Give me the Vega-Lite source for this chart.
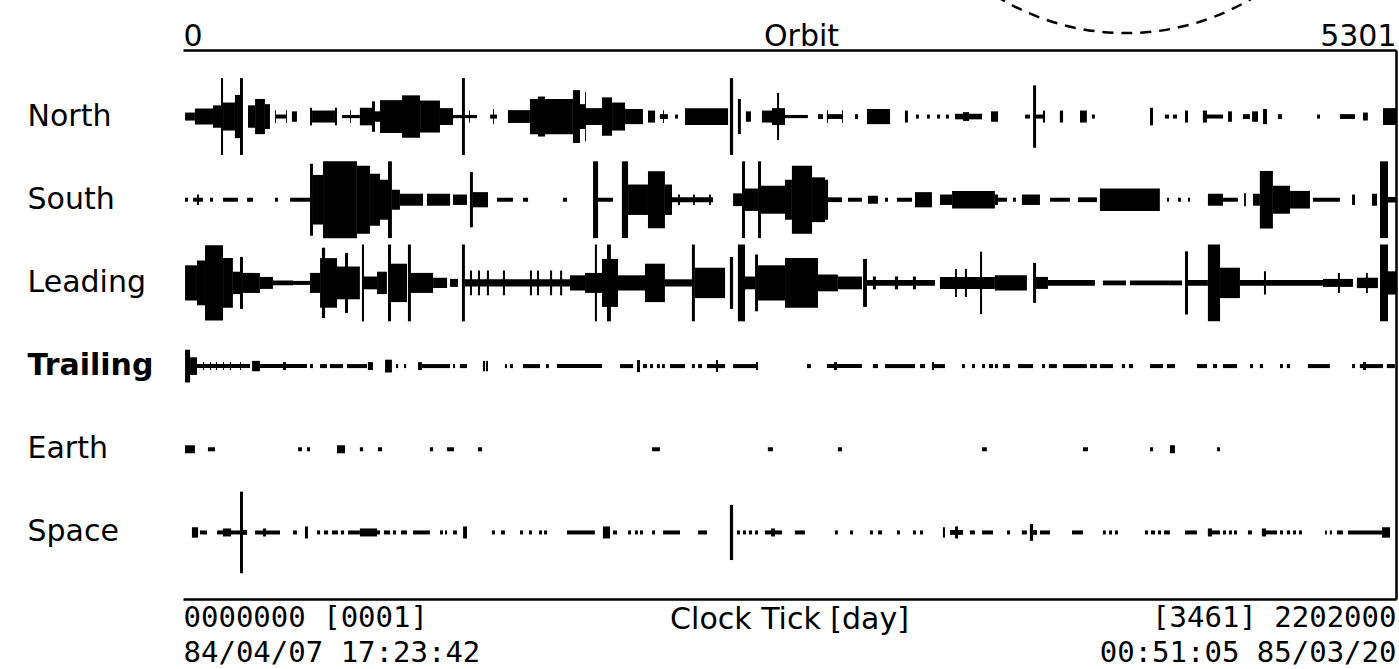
{
  "$schema": "https://vega.github.io/schema/vega-lite/v6.json",
  "width": 1213,
  "height": 549,
  "autosize": {"type": "none"},
  "padding": {"left": 183, "top": 50, "right": 3, "bottom": 70},
  "background": "white",
  "config": {"view": {"stroke": null}, "font": "DejaVu Sans"},
  "datasets": {
    "traces": [
      {"ch":"North","t0":9,"t1":52,"a":1.0},{"ch":"North","t0":52,"t1":131,"a":2.0},{"ch":"North","t0":131,"t1":166,"a":2.8},{"ch":"North","t0":166,"t1":175,"a":9.6},{"ch":"North","t0":175,"t1":227,"a":3.5},{"ch":"North","t0":227,"t1":249,"a":5.4},{"ch":"North","t0":249,"t1":262,"a":9.6},{"ch":"North","t0":284,"t1":315,"a":2.8},{"ch":"North","t0":315,"t1":358,"a":4.4},{"ch":"North","t0":358,"t1":380,"a":3.1},{"ch":"North","t0":402,"t1":406,"a":1.6},{"ch":"North","t0":406,"t1":450,"a":0.5},{"ch":"North","t0":450,"t1":454,"a":1.6},{"ch":"North","t0":476,"t1":498,"a":1.3},{"ch":"North","t0":555,"t1":564,"a":2.2},{"ch":"North","t0":564,"t1":664,"a":1.5},{"ch":"North","t0":664,"t1":673,"a":2.2},{"ch":"North","t0":695,"t1":773,"a":0.4},{"ch":"North","t0":730,"t1":734,"a":1.6},{"ch":"North","t0":773,"t1":826,"a":2.2},{"ch":"North","t0":826,"t1":839,"a":3.8},{"ch":"North","t0":839,"t1":861,"a":1.3},{"ch":"North","t0":861,"t1":957,"a":4.1},{"ch":"North","t0":957,"t1":1036,"a":5.3},{"ch":"North","t0":1036,"t1":1123,"a":4.0},{"ch":"North","t0":1123,"t1":1180,"a":2.1},{"ch":"North","t0":1180,"t1":1219,"a":0.4},{"ch":"North","t0":1219,"t1":1232,"a":9.6},{"ch":"North","t0":1232,"t1":1285,"a":0.4},{"ch":"North","t0":1250,"t1":1254,"a":1.5},{"ch":"North","t0":1342,"t1":1372,"a":0.5},{"ch":"North","t0":1355,"t1":1359,"a":1.9},{"ch":"North","t0":1420,"t1":1516,"a":1.6},{"ch":"North","t0":1516,"t1":1704,"a":4.4},{"ch":"North","t0":1551,"t1":1582,"a":5.0},{"ch":"North","t0":1704,"t1":1735,"a":6.6},{"ch":"North","t0":1735,"t1":1757,"a":3.1},{"ch":"North","t0":1757,"t1":1831,"a":2.1},{"ch":"North","t0":1757,"t1":1761,"a":6.2},{"ch":"North","t0":1831,"t1":1875,"a":4.8},{"ch":"North","t0":1875,"t1":1932,"a":3.5},{"ch":"North","t0":1932,"t1":2010,"a":1.9},{"ch":"North","t0":2032,"t1":2063,"a":1.5},{"ch":"North","t0":2084,"t1":2119,"a":0.6},{"ch":"North","t0":2098,"t1":2102,"a":1.6},{"ch":"North","t0":2150,"t1":2163,"a":0.5},{"ch":"North","t0":2194,"t1":2382,"a":2.1},{"ch":"North","t0":2390,"t1":2404,"a":9.6},{"ch":"North","t0":2425,"t1":2438,"a":4.4},{"ch":"North","t0":2460,"t1":2482,"a":1.3},{"ch":"North","t0":2530,"t1":2574,"a":1.5},{"ch":"North","t0":2574,"t1":2631,"a":2.1},{"ch":"North","t0":2596,"t1":2605,"a":5.9},{"ch":"North","t0":2631,"t1":2731,"a":0.4},{"ch":"North","t0":2775,"t1":2797,"a":0.6},{"ch":"North","t0":2814,"t1":2884,"a":0.6},{"ch":"North","t0":2814,"t1":2819,"a":1.6},{"ch":"North","t0":2880,"t1":2884,"a":1.6},{"ch":"North","t0":2937,"t1":2950,"a":0.6},{"ch":"North","t0":2989,"t1":3090,"a":1.9},{"ch":"North","t0":3155,"t1":3168,"a":1.5},{"ch":"North","t0":3203,"t1":3216,"a":0.5},{"ch":"North","t0":3251,"t1":3264,"a":0.5},{"ch":"North","t0":3295,"t1":3308,"a":0.5},{"ch":"North","t0":3334,"t1":3347,"a":0.5},{"ch":"North","t0":3374,"t1":3492,"a":0.7},{"ch":"North","t0":3409,"t1":3435,"a":1.1},{"ch":"North","t0":3531,"t1":3562,"a":1.3},{"ch":"North","t0":3680,"t1":3701,"a":0.5},{"ch":"North","t0":3715,"t1":3728,"a":7.8},{"ch":"North","t0":3728,"t1":3767,"a":0.5},{"ch":"North","t0":3758,"t1":3767,"a":1.5},{"ch":"North","t0":3832,"t1":3846,"a":1.5},{"ch":"North","t0":3920,"t1":3950,"a":1.5},{"ch":"North","t0":3972,"t1":3985,"a":0.5},{"ch":"North","t0":4226,"t1":4239,"a":2.2},{"ch":"North","t0":4291,"t1":4309,"a":0.5},{"ch":"North","t0":4326,"t1":4344,"a":0.5},{"ch":"North","t0":4379,"t1":4392,"a":1.5},{"ch":"North","t0":4457,"t1":4475,"a":1.5},{"ch":"North","t0":4475,"t1":4545,"a":0.5},{"ch":"North","t0":4567,"t1":4584,"a":1.3},{"ch":"North","t0":4632,"t1":4663,"a":0.6},{"ch":"North","t0":4672,"t1":4698,"a":1.3},{"ch":"North","t0":4720,"t1":4737,"a":1.9},{"ch":"North","t0":4785,"t1":4803,"a":0.6},{"ch":"North","t0":4956,"t1":4969,"a":0.5},{"ch":"North","t0":5056,"t1":5122,"a":0.6},{"ch":"North","t0":5157,"t1":5178,"a":1.0},{"ch":"North","t0":5244,"t1":5301,"a":2.1},
      {"ch":"South","t0":9,"t1":22,"a":0.5},{"ch":"South","t0":44,"t1":87,"a":0.5},{"ch":"South","t0":61,"t1":70,"a":1.3},{"ch":"South","t0":118,"t1":131,"a":0.5},{"ch":"South","t0":175,"t1":240,"a":0.5},{"ch":"South","t0":280,"t1":306,"a":0.5},{"ch":"South","t0":402,"t1":415,"a":0.5},{"ch":"South","t0":468,"t1":555,"a":0.5},{"ch":"South","t0":555,"t1":568,"a":9.0},{"ch":"South","t0":568,"t1":612,"a":6.2},{"ch":"South","t0":612,"t1":760,"a":9.6},{"ch":"South","t0":760,"t1":817,"a":8.5},{"ch":"South","t0":817,"t1":861,"a":6.5},{"ch":"South","t0":861,"t1":896,"a":5.0},{"ch":"South","t0":896,"t1":913,"a":9.6},{"ch":"South","t0":913,"t1":948,"a":2.5},{"ch":"South","t0":948,"t1":1049,"a":1.5},{"ch":"South","t0":1066,"t1":1167,"a":1.5},{"ch":"South","t0":1180,"t1":1241,"a":1.3},{"ch":"South","t0":1254,"t1":1267,"a":6.9},{"ch":"South","t0":1267,"t1":1333,"a":1.9},{"ch":"South","t0":1372,"t1":1442,"a":0.5},{"ch":"South","t0":1486,"t1":1508,"a":0.5},{"ch":"South","t0":1661,"t1":1678,"a":0.5},{"ch":"South","t0":1792,"t1":1814,"a":9.6},{"ch":"South","t0":1814,"t1":1879,"a":0.5},{"ch":"South","t0":1918,"t1":1945,"a":9.6},{"ch":"South","t0":1945,"t1":2032,"a":3.8},{"ch":"South","t0":2032,"t1":2106,"a":7.1},{"ch":"South","t0":2106,"t1":2137,"a":3.8},{"ch":"South","t0":2137,"t1":2316,"a":0.6},{"ch":"South","t0":2163,"t1":2172,"a":1.3},{"ch":"South","t0":2229,"t1":2237,"a":1.3},{"ch":"South","t0":2299,"t1":2307,"a":1.3},{"ch":"South","t0":2404,"t1":2447,"a":1.6},{"ch":"South","t0":2443,"t1":2456,"a":9.6},{"ch":"South","t0":2456,"t1":2513,"a":2.8},{"ch":"South","t0":2513,"t1":2526,"a":9.6},{"ch":"South","t0":2526,"t1":2631,"a":3.5},{"ch":"South","t0":2631,"t1":2661,"a":5.0},{"ch":"South","t0":2661,"t1":2749,"a":8.5},{"ch":"South","t0":2749,"t1":2806,"a":5.6},{"ch":"South","t0":2806,"t1":2819,"a":5.0},{"ch":"South","t0":2819,"t1":2880,"a":0.6},{"ch":"South","t0":2906,"t1":2967,"a":0.5},{"ch":"South","t0":2993,"t1":3037,"a":1.0},{"ch":"South","t0":3068,"t1":3081,"a":0.5},{"ch":"South","t0":3120,"t1":3186,"a":0.5},{"ch":"South","t0":3199,"t1":3273,"a":1.9},{"ch":"South","t0":3308,"t1":3361,"a":1.3},{"ch":"South","t0":3361,"t1":3548,"a":2.2},{"ch":"South","t0":3548,"t1":3562,"a":1.3},{"ch":"South","t0":3562,"t1":3601,"a":0.5},{"ch":"South","t0":3627,"t1":3640,"a":0.5},{"ch":"South","t0":3666,"t1":3745,"a":1.3},{"ch":"South","t0":3789,"t1":3876,"a":0.5},{"ch":"South","t0":3911,"t1":3994,"a":0.6},{"ch":"South","t0":4007,"t1":4269,"a":2.8},{"ch":"South","t0":4300,"t1":4309,"a":0.5},{"ch":"South","t0":4348,"t1":4361,"a":0.5},{"ch":"South","t0":4392,"t1":4401,"a":0.5},{"ch":"South","t0":4479,"t1":4545,"a":1.5},{"ch":"South","t0":4545,"t1":4610,"a":0.5},{"ch":"South","t0":4637,"t1":4645,"a":1.6},{"ch":"South","t0":4676,"t1":4706,"a":1.5},{"ch":"South","t0":4706,"t1":4763,"a":7.2},{"ch":"South","t0":4763,"t1":4838,"a":3.5},{"ch":"South","t0":4838,"t1":4925,"a":2.2},{"ch":"South","t0":4938,"t1":5056,"a":0.5},{"ch":"South","t0":5109,"t1":5122,"a":1.3},{"ch":"South","t0":5196,"t1":5218,"a":1.5},{"ch":"South","t0":5231,"t1":5266,"a":9.6},{"ch":"South","t0":5266,"t1":5301,"a":0.7},
      {"ch":"Leading","t0":9,"t1":61,"a":4.4},{"ch":"Leading","t0":61,"t1":96,"a":5.6},{"ch":"Leading","t0":96,"t1":175,"a":9.4},{"ch":"Leading","t0":175,"t1":218,"a":6.2},{"ch":"Leading","t0":218,"t1":249,"a":2.8},{"ch":"Leading","t0":249,"t1":262,"a":6.5},{"ch":"Leading","t0":262,"t1":336,"a":2.5},{"ch":"Leading","t0":336,"t1":393,"a":1.5},{"ch":"Leading","t0":393,"t1":481,"a":0.6},{"ch":"Leading","t0":481,"t1":555,"a":0.5},{"ch":"Leading","t0":555,"t1":599,"a":2.5},{"ch":"Leading","t0":599,"t1":673,"a":6.2},{"ch":"Leading","t0":607,"t1":621,"a":8.8},{"ch":"Leading","t0":673,"t1":717,"a":4.1},{"ch":"Leading","t0":708,"t1":721,"a":7.5},{"ch":"Leading","t0":721,"t1":773,"a":4.1},{"ch":"Leading","t0":782,"t1":791,"a":9.6},{"ch":"Leading","t0":791,"t1":848,"a":1.6},{"ch":"Leading","t0":848,"t1":891,"a":2.8},{"ch":"Leading","t0":896,"t1":909,"a":9.6},{"ch":"Leading","t0":905,"t1":979,"a":4.8},{"ch":"Leading","t0":983,"t1":996,"a":9.6},{"ch":"Leading","t0":992,"t1":1093,"a":2.5},{"ch":"Leading","t0":1093,"t1":1154,"a":1.3},{"ch":"Leading","t0":1167,"t1":1202,"a":1.0},{"ch":"Leading","t0":1219,"t1":1232,"a":9.6},{"ch":"Leading","t0":1232,"t1":1691,"a":0.9},{"ch":"Leading","t0":1254,"t1":1263,"a":3.1},{"ch":"Leading","t0":1289,"t1":1298,"a":3.1},{"ch":"Leading","t0":1328,"t1":1337,"a":3.1},{"ch":"Leading","t0":1398,"t1":1407,"a":3.1},{"ch":"Leading","t0":1516,"t1":1525,"a":3.1},{"ch":"Leading","t0":1547,"t1":1556,"a":3.1},{"ch":"Leading","t0":1604,"t1":1613,"a":3.1},{"ch":"Leading","t0":1648,"t1":1657,"a":3.1},{"ch":"Leading","t0":1691,"t1":1757,"a":1.9},{"ch":"Leading","t0":1757,"t1":1831,"a":2.5},{"ch":"Leading","t0":1800,"t1":1809,"a":9.6},{"ch":"Leading","t0":1831,"t1":1901,"a":6.0},{"ch":"Leading","t0":1853,"t1":1870,"a":9.6},{"ch":"Leading","t0":1901,"t1":2019,"a":1.9},{"ch":"Leading","t0":2019,"t1":2106,"a":4.8},{"ch":"Leading","t0":2106,"t1":2224,"a":0.9},{"ch":"Leading","t0":2224,"t1":2237,"a":9.6},{"ch":"Leading","t0":2237,"t1":2369,"a":3.8},{"ch":"Leading","t0":2390,"t1":2404,"a":6.5},{"ch":"Leading","t0":2425,"t1":2456,"a":9.6},{"ch":"Leading","t0":2456,"t1":2500,"a":1.6},{"ch":"Leading","t0":2500,"t1":2513,"a":7.1},{"ch":"Leading","t0":2513,"t1":2631,"a":4.4},{"ch":"Leading","t0":2631,"t1":2775,"a":6.2},{"ch":"Leading","t0":2775,"t1":2862,"a":2.1},{"ch":"Leading","t0":2862,"t1":2967,"a":1.6},{"ch":"Leading","t0":2972,"t1":2989,"a":6.0},{"ch":"Leading","t0":2989,"t1":3286,"a":0.7},{"ch":"Leading","t0":3015,"t1":3028,"a":1.6},{"ch":"Leading","t0":3111,"t1":3125,"a":1.6},{"ch":"Leading","t0":3190,"t1":3203,"a":1.6},{"ch":"Leading","t0":3308,"t1":3548,"a":1.5},{"ch":"Leading","t0":3374,"t1":3382,"a":3.5},{"ch":"Leading","t0":3417,"t1":3426,"a":3.5},{"ch":"Leading","t0":3483,"t1":3492,"a":7.8},{"ch":"Leading","t0":3548,"t1":3688,"a":1.9},{"ch":"Leading","t0":3715,"t1":3728,"a":5.0},{"ch":"Leading","t0":3728,"t1":3780,"a":1.5},{"ch":"Leading","t0":3780,"t1":3985,"a":0.7},{"ch":"Leading","t0":4020,"t1":4121,"a":0.6},{"ch":"Leading","t0":4138,"t1":4313,"a":0.6},{"ch":"Leading","t0":4313,"t1":4366,"a":0.6},{"ch":"Leading","t0":4379,"t1":4392,"a":7.9},{"ch":"Leading","t0":4392,"t1":4479,"a":0.7},{"ch":"Leading","t0":4479,"t1":4532,"a":9.6},{"ch":"Leading","t0":4532,"t1":4619,"a":3.8},{"ch":"Leading","t0":4619,"t1":4982,"a":0.7},{"ch":"Leading","t0":4724,"t1":4733,"a":2.9},{"ch":"Leading","t0":4982,"t1":5113,"a":1.0},{"ch":"Leading","t0":5047,"t1":5056,"a":2.5},{"ch":"Leading","t0":5130,"t1":5222,"a":1.3},{"ch":"Leading","t0":5170,"t1":5178,"a":2.5},{"ch":"Leading","t0":5231,"t1":5266,"a":9.6},{"ch":"Leading","t0":5266,"t1":5301,"a":2.9},
      {"ch":"Trailing","t0":9,"t1":31,"a":4.1},{"ch":"Trailing","t0":31,"t1":61,"a":2.2},{"ch":"Trailing","t0":61,"t1":293,"a":0.5},{"ch":"Trailing","t0":87,"t1":92,"a":1.0},{"ch":"Trailing","t0":118,"t1":122,"a":1.0},{"ch":"Trailing","t0":144,"t1":149,"a":1.0},{"ch":"Trailing","t0":175,"t1":179,"a":1.0},{"ch":"Trailing","t0":205,"t1":210,"a":1.0},{"ch":"Trailing","t0":249,"t1":253,"a":1.0},{"ch":"Trailing","t0":302,"t1":336,"a":1.3},{"ch":"Trailing","t0":336,"t1":542,"a":0.5},{"ch":"Trailing","t0":437,"t1":450,"a":1.0},{"ch":"Trailing","t0":555,"t1":568,"a":0.5},{"ch":"Trailing","t0":599,"t1":629,"a":0.5},{"ch":"Trailing","t0":642,"t1":699,"a":0.5},{"ch":"Trailing","t0":717,"t1":804,"a":0.5},{"ch":"Trailing","t0":808,"t1":830,"a":1.0},{"ch":"Trailing","t0":883,"t1":913,"a":1.6},{"ch":"Trailing","t0":931,"t1":940,"a":0.5},{"ch":"Trailing","t0":966,"t1":975,"a":0.5},{"ch":"Trailing","t0":1027,"t1":1044,"a":1.0},{"ch":"Trailing","t0":1044,"t1":1167,"a":0.5},{"ch":"Trailing","t0":1180,"t1":1189,"a":0.5},{"ch":"Trailing","t0":1210,"t1":1241,"a":0.5},{"ch":"Trailing","t0":1311,"t1":1320,"a":1.3},{"ch":"Trailing","t0":1324,"t1":1333,"a":1.3},{"ch":"Trailing","t0":1407,"t1":1416,"a":0.5},{"ch":"Trailing","t0":1429,"t1":1442,"a":0.5},{"ch":"Trailing","t0":1486,"t1":1560,"a":0.5},{"ch":"Trailing","t0":1586,"t1":1599,"a":0.5},{"ch":"Trailing","t0":1634,"t1":1831,"a":0.5},{"ch":"Trailing","t0":1910,"t1":1967,"a":0.5},{"ch":"Trailing","t0":1984,"t1":1997,"a":1.5},{"ch":"Trailing","t0":2010,"t1":2028,"a":0.5},{"ch":"Trailing","t0":2041,"t1":2054,"a":0.5},{"ch":"Trailing","t0":2071,"t1":2084,"a":0.5},{"ch":"Trailing","t0":2093,"t1":2106,"a":0.5},{"ch":"Trailing","t0":2128,"t1":2194,"a":0.5},{"ch":"Trailing","t0":2224,"t1":2237,"a":0.5},{"ch":"Trailing","t0":2251,"t1":2268,"a":0.5},{"ch":"Trailing","t0":2290,"t1":2369,"a":0.5},{"ch":"Trailing","t0":2329,"t1":2338,"a":1.5},{"ch":"Trailing","t0":2404,"t1":2513,"a":0.5},{"ch":"Trailing","t0":2504,"t1":2513,"a":1.0},{"ch":"Trailing","t0":2727,"t1":2744,"a":0.5},{"ch":"Trailing","t0":2814,"t1":2967,"a":0.5},{"ch":"Trailing","t0":2845,"t1":2858,"a":1.0},{"ch":"Trailing","t0":3015,"t1":3037,"a":0.5},{"ch":"Trailing","t0":3068,"t1":3199,"a":0.5},{"ch":"Trailing","t0":3221,"t1":3243,"a":0.5},{"ch":"Trailing","t0":3273,"t1":3330,"a":0.5},{"ch":"Trailing","t0":3273,"t1":3282,"a":1.0},{"ch":"Trailing","t0":3404,"t1":3417,"a":0.5},{"ch":"Trailing","t0":3448,"t1":3461,"a":0.5},{"ch":"Trailing","t0":3492,"t1":3505,"a":0.5},{"ch":"Trailing","t0":3522,"t1":3540,"a":0.5},{"ch":"Trailing","t0":3548,"t1":3562,"a":0.5},{"ch":"Trailing","t0":3583,"t1":3614,"a":0.5},{"ch":"Trailing","t0":3649,"t1":3715,"a":0.5},{"ch":"Trailing","t0":3754,"t1":3767,"a":0.5},{"ch":"Trailing","t0":3784,"t1":3819,"a":0.5},{"ch":"Trailing","t0":3846,"t1":3950,"a":0.5},{"ch":"Trailing","t0":3964,"t1":3994,"a":0.5},{"ch":"Trailing","t0":4007,"t1":4064,"a":0.5},{"ch":"Trailing","t0":4103,"t1":4117,"a":0.5},{"ch":"Trailing","t0":4134,"t1":4152,"a":0.5},{"ch":"Trailing","t0":4226,"t1":4283,"a":0.5},{"ch":"Trailing","t0":4300,"t1":4335,"a":0.5},{"ch":"Trailing","t0":4431,"t1":4475,"a":0.5},{"ch":"Trailing","t0":4501,"t1":4519,"a":0.5},{"ch":"Trailing","t0":4545,"t1":4606,"a":0.5},{"ch":"Trailing","t0":4663,"t1":4676,"a":0.5},{"ch":"Trailing","t0":4706,"t1":4720,"a":0.5},{"ch":"Trailing","t0":4794,"t1":4807,"a":0.5},{"ch":"Trailing","t0":4824,"t1":4838,"a":0.5},{"ch":"Trailing","t0":4916,"t1":5012,"a":0.5},{"ch":"Trailing","t0":5109,"t1":5122,"a":0.5},{"ch":"Trailing","t0":5143,"t1":5244,"a":0.5},{"ch":"Trailing","t0":5157,"t1":5170,"a":1.0},{"ch":"Trailing","t0":5261,"t1":5296,"a":0.5},
      {"ch":"Earth","t0":9,"t1":52,"a":1.0},{"ch":"Earth","t0":109,"t1":140,"a":0.5},{"ch":"Earth","t0":503,"t1":520,"a":0.5},{"ch":"Earth","t0":542,"t1":555,"a":0.5},{"ch":"Earth","t0":673,"t1":708,"a":1.0},{"ch":"Earth","t0":773,"t1":787,"a":0.5},{"ch":"Earth","t0":852,"t1":870,"a":0.5},{"ch":"Earth","t0":1079,"t1":1093,"a":0.5},{"ch":"Earth","t0":1154,"t1":1184,"a":0.5},{"ch":"Earth","t0":1289,"t1":1307,"a":0.5},{"ch":"Earth","t0":2050,"t1":2084,"a":0.5},{"ch":"Earth","t0":2556,"t1":2578,"a":0.5},{"ch":"Earth","t0":2862,"t1":2880,"a":0.5},{"ch":"Earth","t0":3492,"t1":3513,"a":0.5},{"ch":"Earth","t0":3933,"t1":3955,"a":0.5},{"ch":"Earth","t0":4226,"t1":4239,"a":0.5},{"ch":"Earth","t0":4313,"t1":4335,"a":1.0},{"ch":"Earth","t0":4519,"t1":4532,"a":0.5},
      {"ch":"Space","t0":39,"t1":66,"a":1.3},{"ch":"Space","t0":74,"t1":105,"a":0.5},{"ch":"Space","t0":149,"t1":227,"a":0.5},{"ch":"Space","t0":175,"t1":210,"a":1.0},{"ch":"Space","t0":227,"t1":249,"a":0.5},{"ch":"Space","t0":249,"t1":262,"a":10.2},{"ch":"Space","t0":262,"t1":280,"a":0.6},{"ch":"Space","t0":315,"t1":424,"a":0.5},{"ch":"Space","t0":350,"t1":363,"a":1.0},{"ch":"Space","t0":481,"t1":498,"a":0.5},{"ch":"Space","t0":533,"t1":546,"a":1.5},{"ch":"Space","t0":586,"t1":599,"a":0.5},{"ch":"Space","t0":616,"t1":634,"a":0.5},{"ch":"Space","t0":651,"t1":677,"a":0.5},{"ch":"Space","t0":690,"t1":704,"a":0.5},{"ch":"Space","t0":721,"t1":773,"a":0.5},{"ch":"Space","t0":773,"t1":848,"a":1.0},{"ch":"Space","t0":848,"t1":861,"a":0.5},{"ch":"Space","t0":878,"t1":905,"a":0.5},{"ch":"Space","t0":918,"t1":931,"a":0.5},{"ch":"Space","t0":953,"t1":979,"a":0.5},{"ch":"Space","t0":1005,"t1":1079,"a":0.5},{"ch":"Space","t0":1123,"t1":1136,"a":0.5},{"ch":"Space","t0":1145,"t1":1154,"a":0.5},{"ch":"Space","t0":1180,"t1":1197,"a":0.5},{"ch":"Space","t0":1224,"t1":1241,"a":1.5},{"ch":"Space","t0":1350,"t1":1363,"a":0.5},{"ch":"Space","t0":1390,"t1":1407,"a":0.5},{"ch":"Space","t0":1473,"t1":1486,"a":0.5},{"ch":"Space","t0":1512,"t1":1525,"a":0.5},{"ch":"Space","t0":1556,"t1":1569,"a":0.5},{"ch":"Space","t0":1578,"t1":1591,"a":0.5},{"ch":"Space","t0":1678,"t1":1800,"a":0.5},{"ch":"Space","t0":1835,"t1":1866,"a":1.5},{"ch":"Space","t0":1879,"t1":1897,"a":0.5},{"ch":"Space","t0":1945,"t1":1958,"a":0.5},{"ch":"Space","t0":1975,"t1":1988,"a":0.5},{"ch":"Space","t0":1997,"t1":2010,"a":0.5},{"ch":"Space","t0":2050,"t1":2063,"a":0.5},{"ch":"Space","t0":2098,"t1":2172,"a":0.5},{"ch":"Space","t0":2251,"t1":2290,"a":0.5},{"ch":"Space","t0":2390,"t1":2404,"a":6.9},{"ch":"Space","t0":2421,"t1":2434,"a":0.5},{"ch":"Space","t0":2447,"t1":2460,"a":0.5},{"ch":"Space","t0":2473,"t1":2487,"a":0.5},{"ch":"Space","t0":2500,"t1":2513,"a":0.5},{"ch":"Space","t0":2543,"t1":2618,"a":0.5},{"ch":"Space","t0":2570,"t1":2587,"a":1.0},{"ch":"Space","t0":2674,"t1":2718,"a":0.5},{"ch":"Space","t0":2849,"t1":2862,"a":0.5},{"ch":"Space","t0":2915,"t1":2928,"a":0.5},{"ch":"Space","t0":3002,"t1":3015,"a":0.5},{"ch":"Space","t0":3037,"t1":3055,"a":0.5},{"ch":"Space","t0":3120,"t1":3133,"a":0.5},{"ch":"Space","t0":3190,"t1":3203,"a":0.5},{"ch":"Space","t0":3221,"t1":3234,"a":0.5},{"ch":"Space","t0":3321,"t1":3330,"a":1.3},{"ch":"Space","t0":3352,"t1":3409,"a":0.6},{"ch":"Space","t0":3374,"t1":3387,"a":1.5},{"ch":"Space","t0":3439,"t1":3461,"a":0.5},{"ch":"Space","t0":3492,"t1":3540,"a":0.5},{"ch":"Space","t0":3601,"t1":3614,"a":0.5},{"ch":"Space","t0":3666,"t1":3688,"a":0.5},{"ch":"Space","t0":3701,"t1":3715,"a":2.1},{"ch":"Space","t0":3715,"t1":3732,"a":0.6},{"ch":"Space","t0":3745,"t1":3789,"a":0.5},{"ch":"Space","t0":3885,"t1":3933,"a":0.5},{"ch":"Space","t0":4020,"t1":4033,"a":0.5},{"ch":"Space","t0":4047,"t1":4060,"a":0.5},{"ch":"Space","t0":4073,"t1":4086,"a":0.5},{"ch":"Space","t0":4204,"t1":4217,"a":0.5},{"ch":"Space","t0":4230,"t1":4248,"a":0.5},{"ch":"Space","t0":4261,"t1":4274,"a":0.5},{"ch":"Space","t0":4287,"t1":4313,"a":0.5},{"ch":"Space","t0":4379,"t1":4431,"a":0.5},{"ch":"Space","t0":4479,"t1":4532,"a":0.5},{"ch":"Space","t0":4479,"t1":4497,"a":1.0},{"ch":"Space","t0":4545,"t1":4558,"a":0.5},{"ch":"Space","t0":4571,"t1":4584,"a":0.5},{"ch":"Space","t0":4593,"t1":4606,"a":0.5},{"ch":"Space","t0":4654,"t1":4672,"a":0.5},{"ch":"Space","t0":4715,"t1":4781,"a":0.5},{"ch":"Space","t0":4715,"t1":4733,"a":1.0},{"ch":"Space","t0":4794,"t1":4807,"a":0.5},{"ch":"Space","t0":4824,"t1":4838,"a":0.5},{"ch":"Space","t0":4851,"t1":4864,"a":0.5},{"ch":"Space","t0":4877,"t1":4890,"a":0.5},{"ch":"Space","t0":4991,"t1":4999,"a":0.5},{"ch":"Space","t0":5012,"t1":5021,"a":0.5},{"ch":"Space","t0":5043,"t1":5069,"a":0.5},{"ch":"Space","t0":5091,"t1":5240,"a":0.5},{"ch":"Space","t0":5240,"t1":5275,"a":1.3}
    ],
    "marker": [{"t": 4121, "v": 1.479}]
  },
  "layer": [
    {
      "data": {"name": "traces"},
      "mark": {"type": "bar", "color": "black"},
      "encoding": {
        "x": {
          "field": "t0", "type": "quantitative",
          "scale": {"domain": [0, 5301], "nice": false, "zero": false},
          "axis": {
            "orient": "top", "values": [0, 5301], "format": "d", "labelFlush": true,
            "ticks": false, "grid": false, "domainColor": "black", "domainWidth": 2.5,
            "labelFontSize": 30, "labelColor": "black", "labelPadding": 5, "labelBaseline": "alphabetic",
            "title": "Orbit", "titleFontSize": 30, "titleFontWeight": "normal", "titleColor": "black",
            "titleX": 618, "titleY": -5, "titleBaseline": "alphabetic", "titleAlign": "center"
          }
        },
        "x2": {"field": "t1"},
        "y": {
          "field": "ch", "type": "nominal",
          "sort": ["North", "South", "Leading", "Trailing", "Earth", "Space"],
          "scale": {"paddingInner": 0, "paddingOuter": 0.3},
          "axis": {
            "title": null, "domain": false, "ticks": false, "grid": false,
            "labelAlign": "left", "labelPadding": 156, "labelFontSize": 30, "labelColor": "black",
            "labelFontWeight": {"condition": {"test": "datum.value === 'Trailing'", "value": "bold"}, "value": "normal"}
          }
        },
        "size": {"field": "a", "type": "quantitative", "scale": {"domain": [0, 10], "range": [0, 80]}, "legend": null}
      }
    },
    {
      "data": {"name": "marker"},
      "mark": {"type": "point", "shape": "circle", "size": 242064, "filled": false, "stroke": "black", "strokeWidth": 2.5, "opacity": 1, "strokeOpacity": 1, "strokeDash": [11, 8], "clip": false},
      "encoding": {
        "x": {
          "field": "t", "type": "quantitative",
          "scale": {"domain": [0, 5301], "nice": false, "zero": false},
          "axis": {
            "orient": "bottom", "values": [0, 5301], "labelFlush": true, "labelLimit": 0,
            "labelExpr": "datum.value === 0 ? ['0000000 [0001]', '84/04/07 17:23:42'] : ['[3461] 2202000', '00:51:05 85/03/20']",
            "ticks": false, "grid": false, "domainColor": "black", "domainWidth": 2.5,
            "labelFont": "DejaVu Sans Mono", "labelFontSize": 29, "labelColor": "black", "labelPadding": 4,
            "labelBaseline": "top", "labelLineHeight": 35,
            "title": "Clock Tick [day]", "titleFontSize": 30, "titleFontWeight": "normal", "titleColor": "black",
            "titleX": 606, "titleY": 29, "titleBaseline": "alphabetic", "titleAlign": "center"
          }
        },
        "y": {
          "field": "v", "type": "quantitative",
          "scale": {"domain": [0, 1], "nice": false, "zero": false},
          "axis": {"orient": "right", "labels": false, "ticks": false, "grid": false, "title": null, "domainColor": "black", "domainWidth": 2.5}
        }
      }
    }
  ],
  "resolve": {"scale": {"y": "independent"}, "axis": {"x": "independent"}}
}
